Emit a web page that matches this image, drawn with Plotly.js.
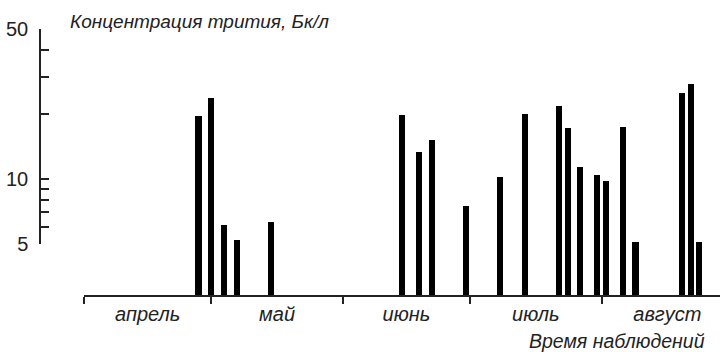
<!DOCTYPE html>
<html>
<head>
<meta charset="utf-8">
<script src="https://cdn.plot.ly/plotly-3.0.1.min.js"></script>
<style>html,body{margin:0;padding:0;background:#fff;}#chart{width:720px;height:352px;}</style>
</head>
<body>
<div id="chart"></div>
<script>
// ---- data ----
const monthNames = ['апрель', 'май', 'июнь', 'июль', 'август'];
const monthStarts = ['2011-04-01', '2011-05-01', '2011-06-01', '2011-07-01', '2011-08-01', '2011-09-01'];
const sampleDates = [
  '2011-04-28', '2011-05-01', '2011-05-04', '2011-05-07', '2011-05-15',
  '2011-06-15', '2011-06-19', '2011-06-22', '2011-06-30',
  '2011-07-08', '2011-07-14', '2011-07-22', '2011-07-24', '2011-07-27', '2011-07-31',
  '2011-08-02', '2011-08-06', '2011-08-09', '2011-08-20', '2011-08-22', '2011-08-24'
];
const tritium = [
  19.7, 23.9, 6.1, 5.2, 6.3,
  19.8, 13.3, 15.2, 7.5,
  10.2, 20.0, 21.9, 17.2, 11.4, 10.4,
  9.8, 17.4, 5.1, 25.2, 27.7, 5.1
];
const yTickVals = [5, 10, 50];
const yTickText = ['5', '10', '50'];
const yMinorVals = [6, 7, 8, 9, 20, 30, 40];
const yTitle = 'Концентрация трития, Бк/л';
const xTitle = 'Время наблюдений';

// ---- derived ----
const startMs = monthStarts.map(d => new Date(d + 'T00:00:00Z').getTime());
const midMs = [];
for (let i = 0; i < monthNames.length; i++) midMs.push((startMs[i] + startMs[i + 1]) / 2);
const fmt = ms => new Date(ms).toISOString().replace('T', ' ').slice(0, 19);
const midDates = midMs.map(fmt);
const FAMILY = '"Liberation Sans", Arial, sans-serif';
const DAY = 86400000;
const yRange = [Math.log10(2.88), Math.log10(50)];
const yPaper = v => (Math.log10(v) - yRange[0]) / (yRange[1] - yRange[0]);
const axisRange = [Math.log10(yTickVals[0]), Math.log10(yTickVals[yTickVals.length - 1])];

const bars = {
  type: 'bar',
  x: sampleDates,
  y: tritium,
  width: sampleDates.map(() => 1.45 * DAY),
  marker: {color: '#000', line: {width: 0}},
  hoverinfo: 'x+y'
};
// same samples bound to the visible (5–50) scale axis, invisible, so that axis is drawn
const scaleCarrier = {
  type: 'scatter', mode: 'markers',
  x: sampleDates, y: tritium,
  yaxis: 'y2',
  marker: {opacity: 0, size: 1},
  hoverinfo: 'skip', cliponaxis: true
};

const layout = {
  width: 720, height: 352,
  margin: {l: 40, r: 0, t: 29, b: 57, pad: 0},
  paper_bgcolor: '#fff', plot_bgcolor: 'rgba(0,0,0,0)',
  showlegend: false,
  bargap: 0,
  xaxis: {
    type: 'date',
    domain: [44 / 680, 1],
    range: ['2011-04-01', '2011-08-28 22:00'],
    showgrid: false, zeroline: false,
    showline: true, linecolor: '#222', linewidth: 1.5,
    tickmode: 'array', tickvals: midDates, ticktext: monthNames,
    ticks: '', ticklen: 0,
    tickfont: {family: FAMILY, size: 20, color: '#222', style: 'italic'},
    minor: {tickmode: 'array', tickvals: monthStarts.slice(0, 5), ticks: 'outside', ticklen: 7, tickwidth: 1.5, tickcolor: '#222', showgrid: false},
    fixedrange: true
  },
  yaxis: {
    type: 'log',
    anchor: 'free', position: 0,
    range: yRange,
    showgrid: false, zeroline: false, showline: false,
    showticklabels: false, ticks: '',
    fixedrange: true
  },
  yaxis2: {
    type: 'log',
    anchor: 'free', position: 0,
    domain: [yPaper(yTickVals[0]), 1],
    range: axisRange,
    showgrid: false, zeroline: false,
    showline: true, linecolor: '#222', linewidth: 1.5,
    tickmode: 'array', tickvals: yTickVals, ticktext: yTickText,
    ticks: 'inside', ticklen: 8, tickwidth: 1.5, tickcolor: '#222',
    ticklabelstandoff: 7,
    tickfont: {family: FAMILY, size: 20, color: '#222'},
    minor: {tickmode: 'array', tickvals: yMinorVals, ticks: 'inside', ticklen: 8, tickwidth: 1.5, tickcolor: '#222', showgrid: false},
    fixedrange: true
  },
  annotations: [
    {text: yTitle, xref: 'paper', yref: 'paper', x: 28 / 680, y: 1.03, xanchor: 'left', yanchor: 'middle', showarrow: false,
     font: {family: FAMILY, size: 19, color: '#222', style: 'italic'}},
    {text: xTitle, xref: 'paper', yref: 'paper', x: 667 / 680, y: -0.172, xanchor: 'right', yanchor: 'middle', showarrow: false,
     font: {family: FAMILY, size: 19.5, color: '#222', style: 'italic'}}
  ]
};

Plotly.newPlot('chart', [bars, scaleCarrier], layout, {displayModeBar: false});
</script>
</body>
</html>
